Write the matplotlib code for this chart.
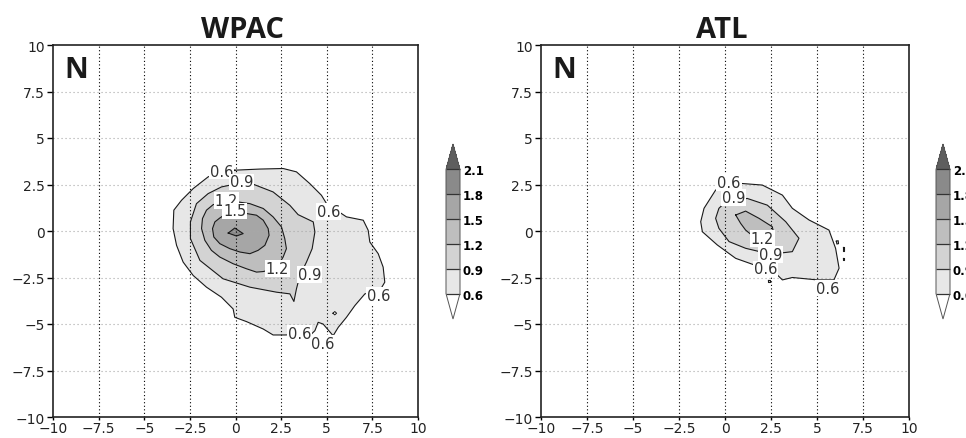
import matplotlib
matplotlib.use('Agg')
import matplotlib.pyplot as plt
from matplotlib.colors import ListedColormap, BoundaryNorm
from matplotlib.cm import ScalarMappable

# ---------------- data ----------------
LEVELS = [0.6, 0.9, 1.2, 1.5, 1.8, 2.1]
FILL_COLORS = ['#e7e7e7', '#d3d3d3', '#bebebe', '#a6a6a6', '#8a8a8a']
OVER_COLOR = '#5e5e5e'
UNDER_COLOR = '#ffffff'
TICKS = [-10, -7.5, -5, -2.5, 0, 2.5, 5, 7.5, 10]
TICK_LABELS = ['−10', '−7.5', '−5', '−2.5', '0', '2.5', '5', '7.5', '10']
GRID = [-7.5, -5, -2.5, 0, 2.5, 5, 7.5]
TITLES = ['WPAC', 'ATL']
PANEL_TAG = 'N'

# contour outlines (x, y), per level
WPAC_06 = [(-0.04, 3.27), (1.33, 3.33), (2.61, 3.36), (3.34, 3.18), (4.07, 2.55), (4.71, 1.92),
           (4.99, 1.47), (6.08, 0.76), (7.00, 0.58), (7.27, 0.04), (7.36, -0.59), (7.82, -1.22),
           (8.09, -1.94), (8.18, -2.75), (7.91, -3.20), (7.09, -3.38), (6.54, -4.01), (6.08, -4.64),
           (5.63, -5.18), (5.35, -5.63), (4.80, -5.00), (4.53, -4.91), (4.35, -5.36), (4.16, -5.54),
           (2.70, -5.59), (2.06, -5.59), (1.52, -5.27), (0.60, -4.87), (-0.04, -4.64), (-0.13, -4.19),
           (-0.77, -3.56), (-1.59, -3.02), (-2.32, -2.39), (-2.87, -1.67), (-3.23, -0.77), (-3.42, 0.13),
           (-3.38, 1.12), (-2.96, 1.65), (-2.32, 2.28), (-1.50, 2.91), (-0.80, 3.20)]
WPAC_09 = [(0.88, 2.55), (2.06, 2.10), (2.98, 1.38), (3.43, 0.88), (4.26, 0.49), (4.35, -0.05),
           (4.20, -0.95), (3.89, -1.67), (3.53, -2.39), (3.34, -3.11), (3.20, -3.79), (2.98, -3.38),
           (2.25, -3.29), (0.79, -3.02), (-0.68, -2.57), (-1.95, -1.58), (-2.47, -0.41), (-2.47, 0.49),
           (-2.14, 1.47), (-1.50, 2.01), (-0.77, 2.37), (-0.13, 2.50)]
WPAC_12 = [(0.15, 1.56), (0.79, 1.47), (1.52, 1.21), (2.06, 0.76), (2.52, 0.22), (2.70, -0.41),
           (2.79, -0.95), (2.61, -1.40), (2.25, -2.00), (1.52, -2.18), (1.15, -2.21), (0.60, -2.03),
           (-0.13, -1.76), (-0.86, -1.40), (-1.32, -1.04), (-1.68, -0.50), (-1.86, 0.13), (-1.81, 0.67),
           (-1.59, 1.12), (-1.22, 1.42), (-0.49, 1.60)]
WPAC_15 = [(-0.04, 0.99), (0.60, 0.94), (1.15, 0.85), (1.52, 0.58), (1.79, 0.13), (1.84, -0.23),
           (1.61, -0.77), (1.24, -1.04), (0.79, -1.22), (0.24, -1.13), (-0.31, -0.95), (-0.86, -0.68),
           (-1.19, -0.32), (-1.26, 0.13), (-1.13, 0.49), (-0.86, 0.70), (-0.58, 0.88)]
WPAC_18 = [(-0.40, -0.11), (-0.04, 0.16), (0.42, -0.14), (0.05, -0.27)]
WPAC_HOLES = [[(5.34, -4.42), (5.44, -4.33), (5.54, -4.42), (5.44, -4.51)]]

ATL_06 = [(0.85, 2.56), (2.03, 2.47), (3.12, 1.93), (3.66, 1.22), (4.57, 0.59), (5.65, 0.05),
          (6.01, -0.93), (6.20, -2.00), (5.92, -2.63), (5.02, -2.63), (3.66, -2.50), (3.12, -2.63),
          (2.84, -2.36), (1.58, -1.82), (0.58, -1.47), (-0.42, -0.75), (-1.23, -0.04), (-1.32, 0.50),
          (-1.14, 1.22), (-0.51, 2.20), (0.20, 2.55)]
ATL_09 = [(0.04, 1.57), (1.21, 1.75), (2.30, 1.39), (3.30, 0.50), (4.02, -0.39), (3.66, -1.11),
          (2.48, -1.25), (1.12, -0.93), (0.22, -0.57), (-0.33, 0.14), (-0.51, 0.68), (-0.33, 1.22)]
ATL_12 = [(0.58, 0.86), (1.12, 1.07), (1.85, 0.68), (2.57, 0.23), (2.61, 0.05), (2.30, -0.13),
          (1.49, -0.25), (1.12, 0.05), (0.85, 0.41)]
ATL_ISLANDS = [[(6.05, -0.55), (6.15, -0.52), (6.17, -0.68), (6.08, -0.70)],
               [(6.44, -0.88), (6.49, -0.88), (6.49, -1.10), (6.44, -1.10)],
               [(6.44, -1.45), (6.49, -1.45), (6.49, -1.58), (6.44, -1.58)],
               [(2.36, -2.64), (2.42, -2.64), (2.42, -2.72), (2.36, -2.72)]]

WPAC_LABELS = [('0.6', -0.77, 3.22), ('0.9', 0.33, 2.64), ('1.2', -0.49, 1.65), ('1.5', -0.04, 1.08),
               ('0.6', 5.08, 1.06), ('1.2', 2.28, -2.00), ('0.9', 4.04, -2.32), ('0.6', 7.82, -3.45),
               ('0.6', 3.53, -5.49), ('0.6', 4.80, -6.04)]
ATL_LABELS = [('0.6', 0.22, 2.61), ('0.9', 0.45, 1.79), ('1.2', 2.03, -0.39), ('0.9', 2.48, -1.25),
              ('0.6', 2.21, -2.04), ('0.6', 5.56, -3.07)]

PANELS = [
    {'title': TITLES[0], 'contours': [(0, WPAC_06), (1, WPAC_09), (2, WPAC_12), (3, WPAC_15), (4, WPAC_18)],
     'holes': WPAC_HOLES, 'labels': WPAC_LABELS, 'title_x': 0.52},
    {'title': TITLES[1], 'contours': [(0, ATL_06), (1, ATL_09), (2, ATL_12)] + [(0, p) for p in ATL_ISLANDS],
     'holes': [], 'labels': ATL_LABELS, 'title_x': 0.49},
]

# ---------------- figure ----------------
W, H = 966, 439
fig = plt.figure(figsize=(W / 100, H / 100), dpi=100)

axes_px = [(53, 46, 365, 372), (541, 46, 368, 372)]
cbar_px = [(446, 145, 14, 175), (936, 145, 14, 175)]

cmap = ListedColormap(FILL_COLORS)
cmap.set_over(OVER_COLOR)
cmap.set_under(UNDER_COLOR)
norm = BoundaryNorm(LEVELS, cmap.N)

for panel, (x0, y0, w, h), (cx, cy, cw, chh) in zip(PANELS, axes_px, cbar_px):
    ax = fig.add_axes([x0 / W, 1 - (y0 + h) / H, w / W, h / H])
    ax.set_xlim(-10, 10)
    ax.set_ylim(-10, 10)

    for lvl, pts in panel['contours']:
        xs = [p[0] for p in pts] + [pts[0][0]]
        ys = [p[1] for p in pts] + [pts[0][1]]
        ax.fill(xs, ys, color=FILL_COLORS[lvl], lw=0, zorder=1)
        ax.plot(xs, ys, color='#1a1a1a', lw=0.8, zorder=3)
    for pts in panel['holes']:
        xs = [p[0] for p in pts] + [pts[0][0]]
        ys = [p[1] for p in pts] + [pts[0][1]]
        ax.fill(xs, ys, color='white', lw=0, zorder=1.5)
        ax.plot(xs, ys, color='#1a1a1a', lw=0.7, zorder=3)

    for g in GRID:
        ax.axvline(g, color='black', lw=0.8, ls=(0, (1, 2.2)), zorder=2)
        ax.axhline(g, color='#a8a8a8', lw=0.8, ls=(0, (1, 2.6)), zorder=2)

    for txt, lx, ly in panel['labels']:
        ax.text(lx, ly, txt, ha='center', va='center', fontsize=10.5, color='#333333',
                family='DejaVu Sans', zorder=5,
                bbox=dict(boxstyle='square,pad=0.06', fc='white', ec='none'))

    ax.set_xticks(TICKS)
    ax.set_xticklabels(TICK_LABELS)
    ax.set_yticks(TICKS)
    ax.set_yticklabels(TICK_LABELS)
    ax.tick_params(axis='y', direction='out', length=4, width=1, pad=2, labelsize=10)
    ax.tick_params(axis='x', direction='out', length=2, width=1, pad=1, labelsize=10)
    for lab in ax.get_xticklabels() + ax.get_yticklabels():
        lab.set_family('DejaVu Sans')
        lab.set_color('#222222')
    for sp in ax.spines.values():
        sp.set_linewidth(1.2)
        sp.set_color('#222222')

    ax.set_title(panel['title'], fontsize=21, fontweight='bold', family='Open Sans',
                 x=panel['title_x'], pad=6, color='#1a1a1a')
    ax.text(0.03, 0.972, PANEL_TAG, transform=ax.transAxes, ha='left', va='top',
            fontsize=21, fontweight='bold', family='Open Sans', color='#1a1a1a', zorder=6)

    cax = fig.add_axes([cx / W, 1 - (cy + chh) / H, cw / W, chh / H])
    sm = ScalarMappable(norm=norm, cmap=cmap)
    cb = fig.colorbar(sm, cax=cax, extend='both', extendfrac=0.205, drawedges=True,
                      ticks=LEVELS)
    cb.dividers.set_color('#333333')
    cb.dividers.set_linewidth(0.9)
    cb.outline.set_edgecolor('#555555')
    cb.outline.set_linewidth(0.7)
    cax.tick_params(length=0, pad=2)
    cax.set_yticklabels([f'{v:.1f}' for v in LEVELS])
    for lab in cax.get_yticklabels():
        lab.set_fontsize(8.5)
        lab.set_fontweight('bold')
        lab.set_family('DejaVu Sans')

fig.savefig('out.png', dpi=100)
